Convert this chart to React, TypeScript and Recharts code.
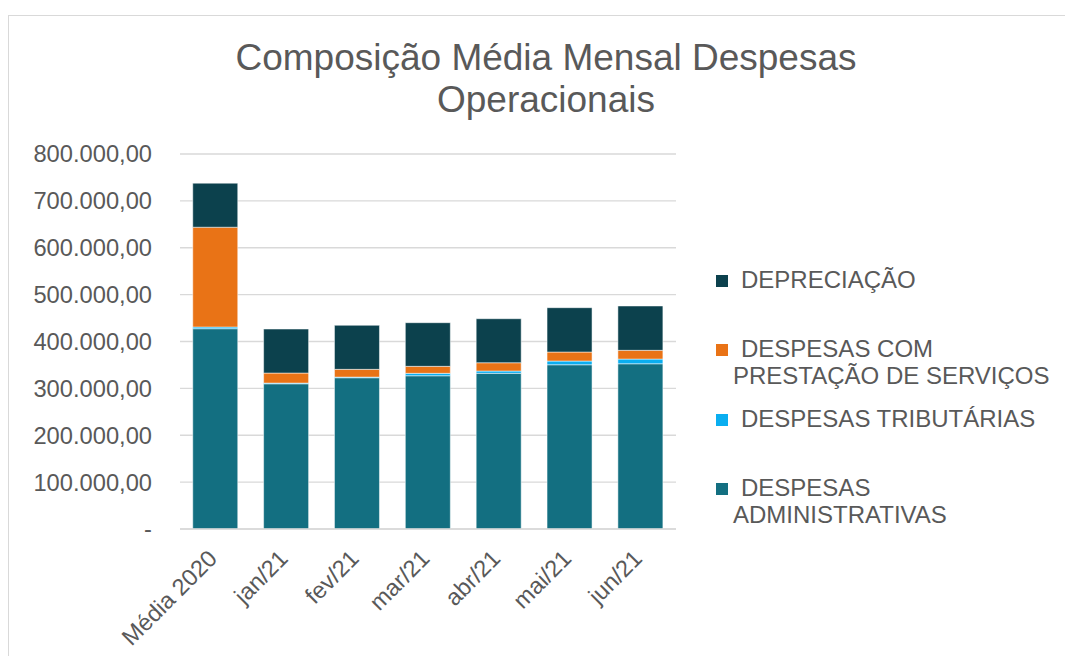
import React from 'react'
import { BarChart, Bar, XAxis, YAxis, CartesianGrid } from 'recharts'

const periods = ['Média 2020', 'jan/21', 'fev/21', 'mar/21', 'abr/21', 'mai/21', 'jun/21']

const administrativas = [427300, 309800, 322700, 326900, 332100, 350400, 352500]
const tributarias = [3600, 1500, 1400, 5200, 4900, 7900, 10000]
const servicos = [212900, 21400, 16500, 14900, 17700, 19200, 18700]
const depreciacao = [94000, 93900, 94000, 93100, 93900, 94600, 94600]

const yTicks = [0, 100000, 200000, 300000, 400000, 500000, 600000, 700000, 800000]

const series = [
  { key: 'dep', name: 'DEPRECIAÇÃO', color: '#0C414D' },
  { key: 'serv', name: 'DESPESAS COM PRESTAÇÃO DE SERVIÇOS', color: '#E97316' },
  { key: 'trib', name: 'DESPESAS TRIBUTÁRIAS', color: '#0AAEF0' },
  { key: 'adm', name: 'DESPESAS ADMINISTRATIVAS', color: '#136F81' },
]

const data = periods.map((p, i) => ({
  period: p,
  adm: administrativas[i],
  trib: tributarias[i],
  serv: servicos[i],
  dep: depreciacao[i],
}))

const FONT = '"Liberation Sans", Arial, sans-serif'
const TEXT = '#595959'

// 800000 -> "800.000,00", 0 -> "-"
function fmt(v: number) {
  if (v === 0) return '-'
  const s = Math.round(v).toString().replace(/\B(?=(\d{3})+(?!\d))/g, '.')
  return s + ',00'
}

function XTick(props: any) {
  const { x, y, payload } = props
  const ax = x + 3
  const ay = y + 23
  return (
    <text
      x={ax}
      y={ay}
      transform={`rotate(-45 ${ax} ${ay})`}
      textAnchor="end"
      fontSize={23.5}
      fontFamily={FONT}
      fill={TEXT}
    >
      {payload.value}
    </text>
  )
}

export default function App() {
  const colorOf = (k: string) => series.find((s) => s.key === k)!.color
  return (
    <div
      style={{
        position: 'absolute',
        left: 8,
        top: 15,
        width: 1056,
        height: 640,
        borderTop: '1px solid #d9d9d9',
        borderLeft: '1px solid #d9d9d9',
        fontFamily: FONT,
        background: '#fff',
      }}
    >
      <div
        style={{
          position: 'absolute',
          left: 137,
          top: 21,
          width: 800,
          textAlign: 'center',
          fontSize: 37,
          lineHeight: '42px',
          color: TEXT,
        }}
      >
        Composição Média Mensal Despesas
        <br />
        Operacionais
      </div>

      <div style={{ position: 'absolute', left: 0, top: 0 }}>
        <BarChart
          width={700}
          height={640}
          data={data}
          margin={{ top: 138, right: 33, left: 0, bottom: 27 }}
          barCategoryGap="18%"
        >
          <CartesianGrid vertical={false} stroke="#d9d9d9" strokeWidth={1.3} />
          <XAxis
            dataKey="period"
            interval={0}
            height={100}
            tickLine={false}
            axisLine={{ stroke: '#d9d9d9', strokeWidth: 1.3 }}
            tick={<XTick />}
          />
          <YAxis
            width={171}
            domain={[0, 800000]}
            ticks={yTicks}
            interval={0}
            axisLine={false}
            tickLine={false}
            tickMargin={22}
            tickFormatter={fmt}
            tick={{ fontSize: 23.7, fill: TEXT, fontFamily: FONT }}
          />
          <Bar dataKey="adm" stackId="a" fill={colorOf('adm')} stroke="#ffffff" strokeWidth={0.5} isAnimationActive={false} />
          <Bar dataKey="trib" stackId="a" fill={colorOf('trib')} stroke="#ffffff" strokeWidth={0.5} isAnimationActive={false} />
          <Bar dataKey="serv" stackId="a" fill={colorOf('serv')} stroke="#ffffff" strokeWidth={0.5} isAnimationActive={false} />
          <Bar dataKey="dep" stackId="a" fill={colorOf('dep')} stroke="#ffffff" strokeWidth={0.5} isAnimationActive={false} />
        </BarChart>
      </div>

      {series.map((s, i) => (
        <div
          key={s.key}
          style={{
            position: 'absolute',
            left: 724,
            top: 250 + i * 69.3,
            width: 330,
            fontSize: 24,
            lineHeight: '27px',
            color: TEXT,
            textIndent: 8,
          }}
        >
          <span
            style={{
              position: 'absolute',
              left: -17,
              top: 9,
              width: 12,
              height: 12,
              background: s.color,
            }}
          />
          {s.name}
        </div>
      ))}
    </div>
  )
}
